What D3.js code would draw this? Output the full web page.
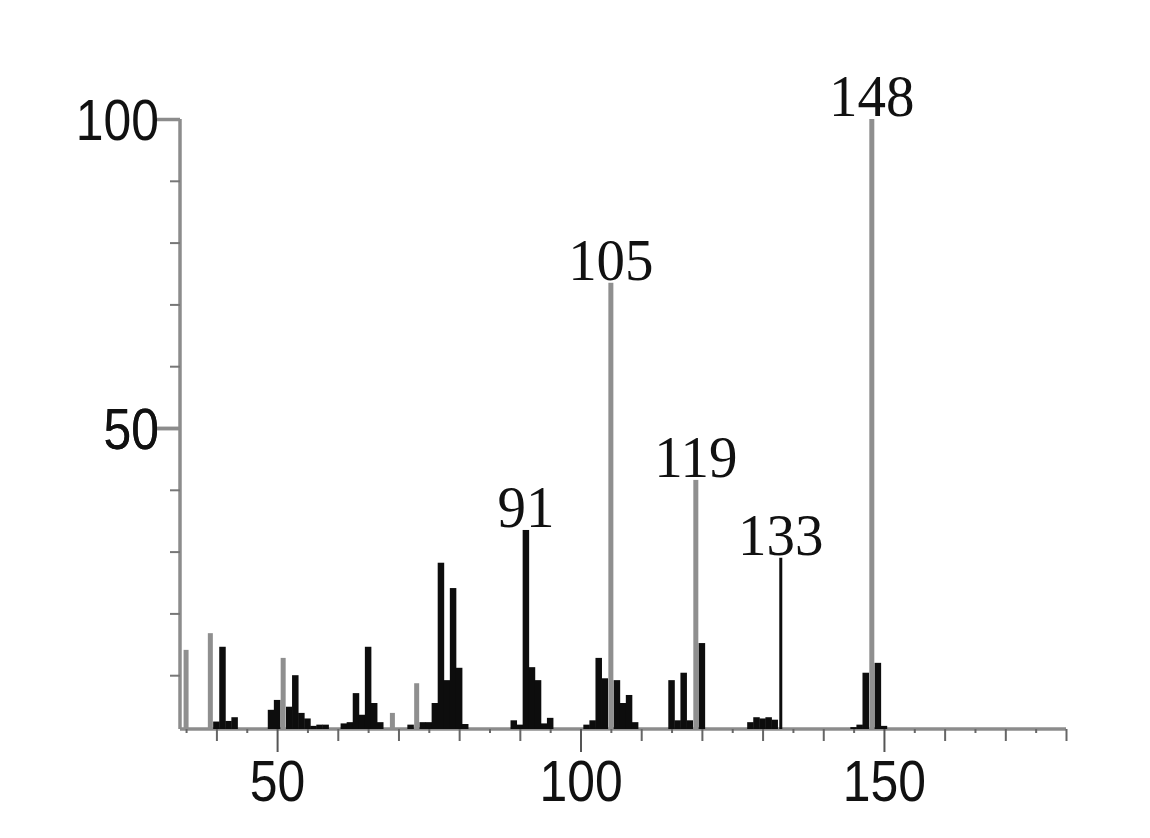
<!DOCTYPE html>
<html>
<head>
<meta charset="utf-8">
<script src="https://cdn.jsdelivr.net/npm/d3@7"></script>
<style>
  html, body { margin: 0; padding: 0; background: #fff; }
  svg { display: block; }
</style>
</head>
<body>
<svg id="chart" width="1150" height="838"></svg>
<script>
// ---- data ----
const mz = [35, 39, 40, 41, 42, 43, 49, 50, 51, 52, 53, 54, 55, 56, 57, 58,
            61, 62, 63, 64, 65, 66, 67, 69, 72, 73, 74, 75, 76, 77, 78, 79, 80, 81,
            89, 90, 91, 92, 93, 94, 95, 101, 102, 103, 104, 105, 106, 107, 108, 109,
            115, 116, 117, 118, 119, 120, 128, 129, 130, 131, 132, 133,
            145, 146, 147, 148, 149, 150];
const intensity = [14.1, 16.8, 2.5, 14.6, 2.6, 3.2, 4.4, 6.0, 12.8, 4.9, 10.0, 3.9, 3.0, 1.8, 2.0, 2.0,
            2.2, 2.4, 7.1, 3.6, 14.6, 5.5, 2.4, 3.9, 2.0, 8.7, 2.4, 2.4, 5.5, 28.2, 9.2, 24.1, 11.2, 2.1,
            2.7, 2.0, 33.5, 11.3, 9.2, 2.2, 3.1, 2.0, 2.7, 12.8, 9.5, 73.5, 9.2, 5.5, 6.8, 2.4,
            9.2, 2.7, 10.4, 2.7, 41.6, 15.2, 2.4, 3.2, 3.0, 3.2, 2.8, 29.0,
            1.6, 2.0, 10.4, 100, 12.0, 1.8];
const labeledPeaks = [91, 105, 119, 133, 148];
const xTickLabels = [50, 100, 150];
const yTickLabels = [50, 100];

// ---- layout / styles ----
const svg = d3.select("#chart");
const x = d3.scaleLinear().domain([34, 180]).range([180, 1066]);
const y = d3.scaleLinear().domain([0, 100]).range([737, 119]);
const baseY = 729;
const axisColor = "#8c8c8c";
const tickFont = "'Liberation Sans', sans-serif";
const squeeze = 0.86;
const GRAY_MZ = new Set([35, 39, 51, 69, 73, 105, 119, 148]);
const THIN_MZ = new Set([133]);
const peaks = mz.map((m, i) => ({ mz: m, v: intensity[i] }));

// x axis
const xAxis = d3.axisBottom(x)
  .tickValues(d3.range(35, 181, 5))
  .tickFormat(d => xTickLabels.includes(d) ? d : "")
  .tickSizeOuter(0);
const gx = svg.append("g").attr("transform", `translate(0,${baseY})`).call(xAxis);
gx.select(".domain").attr("stroke", axisColor).attr("stroke-width", 3.5)
  .attr("d", `M${x(34)},0H${x(180)}`);
gx.selectAll(".tick line")
  .attr("stroke", d => d % 50 === 0 ? "#555" : "#666")
  .attr("stroke-width", 2)
  .attr("y2", d => d % 50 === 0 ? 23 : (d % 10 === 0 ? 12 : 4));
gx.selectAll(".tick text")
  .attr("x", 0).attr("y", 31).attr("dy", "0.71em")
  .attr("transform", `scale(${squeeze},1)`)
  .attr("fill", "#111")
  .style("font-family", tickFont)
  .style("font-size", "58px");

// y axis
const yAxis = d3.axisLeft(y)
  .tickValues(d3.range(10, 101, 10).concat([50]))
  .tickFormat(d => yTickLabels.includes(d) ? d : "")
  .tickSizeOuter(0);
const gy = svg.append("g").attr("transform", `translate(${x(34)},0)`).call(yAxis);
gy.select(".domain").attr("stroke", axisColor).attr("stroke-width", 3.5)
  .attr("d", `M0,${y(100)}V${baseY}`);
gy.selectAll(".tick line")
  .attr("stroke", d => d % 50 === 0 ? axisColor : "#777")
  .attr("stroke-width", d => d % 50 === 0 ? 3.5 : 2)
  .attr("x2", d => d % 50 === 0 ? -23 : -10);
gy.selectAll(".tick text")
  .attr("x", -21 / squeeze).attr("dy", "0.36em")
  .attr("transform", `scale(${squeeze},1)`)
  .attr("fill", "#111")
  .style("font-family", tickFont)
  .style("font-size", "58px");

// peaks: gray first, black on top
const ordered = peaks.filter(p => GRAY_MZ.has(p.mz)).concat(peaks.filter(p => !GRAY_MZ.has(p.mz)));
svg.append("g").selectAll("rect").data(ordered).join("rect")
  .attr("x", d => x(d.mz) - (THIN_MZ.has(d.mz) ? 1.5 : (GRAY_MZ.has(d.mz) ? 2.5 : 3.25)))
  .attr("width", d => THIN_MZ.has(d.mz) ? 3 : (GRAY_MZ.has(d.mz) ? 5 : 6.5))
  .attr("y", d => y(d.v))
  .attr("height", d => Math.max(0, baseY - y(d.v)))
  .attr("fill", d => GRAY_MZ.has(d.mz) ? "#8f8f8f" : "#0d0d0d");

// peak labels
svg.append("g").selectAll("text")
  .data(peaks.filter(p => labeledPeaks.includes(p.mz))).join("text")
  .attr("transform", d => `translate(${x(d.mz)},${y(d.v) - 3}) scale(0.95,1)`)
  .attr("text-anchor", "middle")
  .attr("fill", "#111")
  .style("font-family", "'Liberation Serif', serif")
  .style("font-size", "60px")
  .text(d => d.mz);
</script>
</body>
</html>
